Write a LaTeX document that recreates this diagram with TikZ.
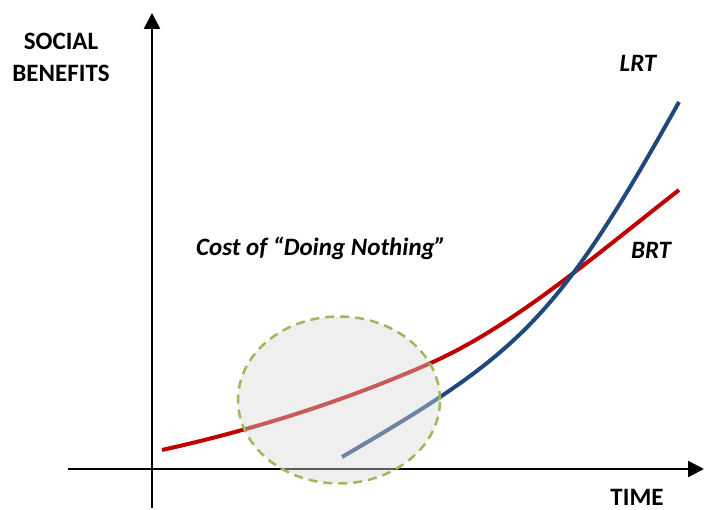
\documentclass[tikz,border=0pt]{standalone}
\usepackage{fontspec}
\setmainfont{Carlito}
\usetikzlibrary{arrows.meta,shapes.geometric}
\definecolor{brtred}{HTML}{C00000}
\definecolor{lrtblue}{HTML}{1F497D}
\definecolor{dashgreen}{HTML}{9BBB59}
\tikzset{
  ax/.style={line width=2.5pt, -{Triangle[length=16pt,width=16pt]}},
  lbl/.style={font=\fontsize{25}{32}\selectfont\bfseries, align=center, inner sep=0pt},
  ilbl/.style={lbl, font=\fontsize{25}{32}\selectfont\bfseries\itshape},
  crv/.style={line width=4pt},
  zone/.style={draw=dashgreen, line width=2.5pt, dash pattern=on 9pt off 6pt, fill=black!15, fill opacity=0.42}
}
\begin{document}
\begin{tikzpicture}[x=1pt, y=-1pt]
	\useasboundingbox (0,0) rectangle (705,510);
	% axes
	\coordinate (o1) at (152,508);
	\coordinate (top) at (152,13);
	\coordinate (o2) at (68,469);
	\coordinate (right) at (704,469);
	\draw[ax] (o1) -- (top);
	\draw[ax] (o2) -- (right);
	% curves
	\coordinate (b0) at (162,450);
	\coordinate (bm) at (433,362);
	\coordinate (b1) at (679,190);
	\coordinate (l0) at (342,457);
	\coordinate (l1) at (679,102);
	\draw[crv, brtred] (b0) .. controls (252,430) and (343,402) .. (bm)
		.. controls (515,325) and (597,254) .. (b1);
	\draw[crv, lrtblue] (l0) .. controls (520,353) and (556,322) .. (l1);
	% circle
	\node[zone, ellipse, minimum width=202pt, minimum height=167pt, inner sep=0pt] (nothing) at (339,400) {};
	% labels
	\node[lbl] (yl) at (61,57) {SOCIAL\\BENEFITS};
	\node[lbl] (xl) at (637,497) {TIME};
	\node[ilbl] (lrt) at (638,63) {LRT};
	\node[ilbl] (brt) at (651,250) {BRT};
	\node[ilbl] (cost) at (321,248) {Cost of “Doing Nothing”};
\end{tikzpicture}
\end{document}
